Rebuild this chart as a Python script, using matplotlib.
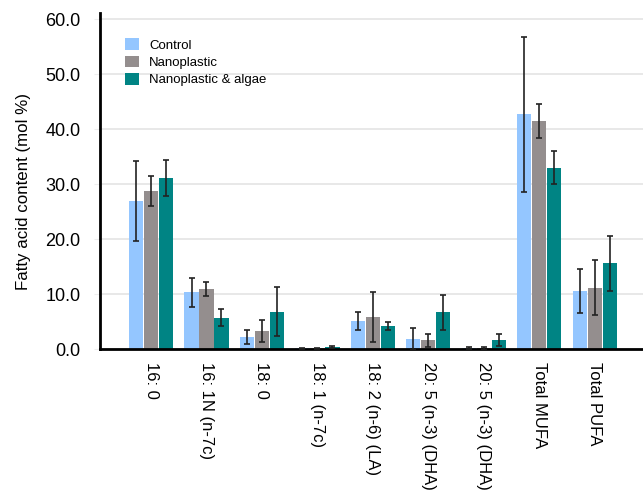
import matplotlib
matplotlib.use("Agg")
import matplotlib.pyplot as plt
import numpy as np

plt.rcParams['font.family'] = ['Liberation Sans', 'DejaVu Sans']

categories = ["16: 0", "16: 1N (n-7c)", "18: 0", "18: 1 (n-7c)", "18: 2 (n-6) (LA)",
              "20: 5 (n-3) (DHA)", "20: 5 (n-3) (DHA)", "Total MUFA", "Total PUFA"]
series_names = ["Control", "Nanoplastic", "Nanoplastic & algae"]
control = [26.9, 10.3, 2.2, 0.1, 5.1, 1.9, 0.2, 42.7, 10.6]
control_err = [7.3, 2.7, 1.3, 0.1, 1.7, 2.0, 0.2, 14.1, 4.0]
nano = [28.7, 10.9, 3.3, 0.1, 5.8, 1.6, 0.1, 41.4, 11.1]
nano_err = [2.7, 1.3, 2.0, 0.1, 4.5, 1.2, 0.2, 3.1, 5.0]
algae = [31.1, 5.7, 6.8, 0.3, 4.2, 6.7, 1.6, 33.0, 15.6]
algae_err = [3.3, 1.6, 4.4, 0.2, 0.8, 3.2, 1.1, 3.0, 5.0]
yticks = [0, 10, 20, 30, 40, 50, 60]

colors = ["#94C6FF", "#948E8E", "#008484"]

fig = plt.figure(figsize=(6.43, 4.99), dpi=100)
ax = fig.add_axes([0.1555, 0.3006, 0.8445, 0.6734])

x = np.arange(len(categories))
w = 0.27
for i, (vals, errs) in enumerate([(control, control_err), (nano, nano_err), (algae, algae_err)]):
    ax.bar(x + (i - 1) * w, vals, width=w * 0.95, color=colors[i], label=series_names[i], zorder=2)
    ax.errorbar(x + (i - 1) * w, vals, yerr=errs, fmt='none', ecolor='#222222',
                elinewidth=1.2, capsize=2, capthick=1.2, zorder=3)

ax.set_xlim(-0.92, 8.87)
ax.set_ylim(0, 61.1)
ax.set_yticks(yticks)
ax.set_yticklabels([f"{v:.1f}" for v in yticks], fontsize=13)
ax.set_xticks(x)
ax.set_xticklabels(categories, rotation=-90, fontsize=12, va='top', ha='center')
ax.tick_params(axis='x', length=0, pad=9)
ax.tick_params(axis='y', length=4, color='#eeeeee', pad=10)
ax.yaxis.grid(True, color='#e4e4e4', linewidth=1.2, zorder=0)
ax.set_axisbelow(True)
for s in ['top', 'right']:
    ax.spines[s].set_visible(False)
ax.spines['left'].set_linewidth(2)
ax.spines['bottom'].set_linewidth(2)
ax.set_ylabel("Fatty acid content (mol %)", fontsize=12.2)
ax.yaxis.set_label_coords(-0.127, 0.47)

ax.legend(loc='upper left', bbox_to_anchor=(0.025, 0.96), frameon=False, fontsize=9.5,
          handlelength=1.0, handleheight=1.0, handletextpad=0.8, labelspacing=0.3)

fig.savefig("out.png", dpi=100)
